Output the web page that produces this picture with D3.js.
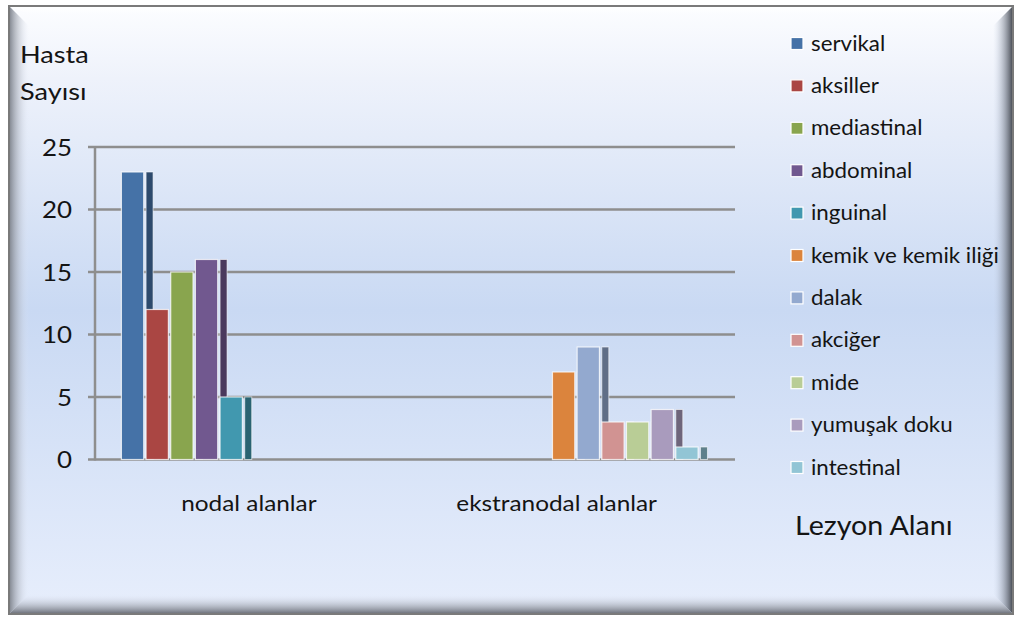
<!DOCTYPE html>
<html>
<head>
<meta charset="utf-8">
<script src="https://cdn.jsdelivr.net/npm/d3@7/dist/d3.min.js"></script>
<style>
  html, body { margin: 0; padding: 0; background: #ffffff; }
  svg { display: block; }
  text { font-family: Lato, "Open Sans", sans-serif; fill: #141414; }
</style>
</head>
<body>
<svg id="chart" width="1015" height="617"></svg>
<script>
// Lesion sites (categories) and the series shown in each cluster
const categories = ["nodal alanlar", "ekstranodal alanlar"];
const seriesNames = ["servikal", "aksiller", "mediastinal", "abdominal", "inguinal",
  "kemik ve kemik iliği", "dalak", "akciğer", "mide", "yumuşak doku", "intestinal"];
const nodalValues = [23, 12, 15, 16, 5, null, null, null, null, null, null];
const extranodalValues = [null, null, null, null, null, 7, 9, 3, 3, 4, 1];
const seriesColors = ["#4572A7", "#AA4643", "#89A54E", "#71588F", "#4198AF",
  "#DB843D", "#93A9CF", "#D19392", "#B9CD96", "#A99BBD", "#92C5D5"];
const yTicks = [0, 5, 10, 15, 20, 25];

const valuesByCategory = [nodalValues, extranodalValues];

const svg = d3.select("#chart");
const defs = svg.append("defs");

// text placed at (x, y) and widened horizontally by sx
const place = (x, y, sx) => `translate(${x},${y}) scale(${sx},1)`;

// ---- panel background and bevelled frame ----
const bg = defs.append("linearGradient").attr("id", "bgGrad")
  .attr("x1", 0).attr("y1", 0).attr("x2", 0).attr("y2", 1);
bg.append("stop").attr("offset", "0%").attr("stop-color", "#fcfdff");
bg.append("stop").attr("offset", "12%").attr("stop-color", "#eef2fb");
bg.append("stop").attr("offset", "50%").attr("stop-color", "#c9d9f3");
bg.append("stop").attr("offset", "100%").attr("stop-color", "#e7eefc");

function bevelGrad(id, x1, y1, x2, y2, c0, o0, c1, o1) {
  const g = defs.append("linearGradient").attr("id", id)
    .attr("x1", x1).attr("y1", y1).attr("x2", x2).attr("y2", y2);
  g.append("stop").attr("offset", "0%").attr("stop-color", c0).attr("stop-opacity", o0);
  g.append("stop").attr("offset", "100%").attr("stop-color", c1).attr("stop-opacity", o1);
}
bevelGrad("bevL", 0, 0, 1, 0, "#7d828b", 1, "#e3e9f6", 0);
bevelGrad("bevR", 1, 0, 0, 0, "#3f434b", 1, "#c9d5ea", 0);
bevelGrad("bevB", 0, 1, 0, 0, "#666a73", 1, "#e3e9f6", 0);
bevelGrad("bevT", 0, 0, 0, 1, "#ffffff", 1, "#ffffff", 0);

const fx0 = 9, fy0 = 6, fx1 = 1013, fy1 = 614, bw = 20;
svg.append("rect").attr("x", fx0).attr("y", fy0)
  .attr("width", fx1 - fx0).attr("height", fy1 - fy0)
  .attr("fill", "url(#bgGrad)");

const poly = pts => pts.map(p => p.join(",")).join(" ");
svg.append("polygon").attr("points", poly([[fx0, fy0], [fx1, fy0], [fx1 - bw, fy0 + 8], [fx0 + bw, fy0 + 8]]))
  .attr("fill", "url(#bevT)");
svg.append("polygon").attr("points", poly([[fx0, fy0], [fx0 + bw, fy0 + bw], [fx0 + bw, fy1 - bw], [fx0, fy1]]))
  .attr("fill", "url(#bevL)");
svg.append("polygon").attr("points", poly([[fx1, fy0], [fx1 - bw, fy0 + bw], [fx1 - bw, fy1 - bw], [fx1, fy1]]))
  .attr("fill", "url(#bevR)");
svg.append("polygon").attr("points", poly([[fx0, fy1], [fx0 + bw, fy1 - bw], [fx1 - bw, fy1 - bw], [fx1, fy1]]))
  .attr("fill", "url(#bevB)");
svg.append("rect").attr("x", fx0).attr("y", fy0)
  .attr("width", fx1 - fx0).attr("height", fy1 - fy0)
  .attr("fill", "none").attr("stroke", "#7a7a7a").attr("stroke-width", 2);

// ---- scales ----
const y = d3.scaleLinear().domain([0, 25]).range([459.5, 147]);
const x0 = d3.scaleBand().domain(categories).range([102, 717.5]).padding(0);
const x1 = d3.scaleBand().domain(seriesNames).range([0, x0.bandwidth()])
  .paddingInner(0.096).paddingOuter(0.787);
const sideW = 7;

const axisLeft = 95, gridLeft = 88, gridRight = 735;

// ---- gridlines and axes ----
const gridG = svg.append("g");
gridG.selectAll("line").data(yTicks).join("line")
  .attr("x1", gridLeft).attr("x2", gridRight)
  .attr("y1", d => y(d)).attr("y2", d => y(d))
  .attr("stroke", "#8e8e8e").attr("stroke-width", 2.5);
gridG.append("line")
  .attr("x1", axisLeft).attr("x2", axisLeft)
  .attr("y1", y(25) - 1).attr("y2", y(0) + 1)
  .attr("stroke", "#8e8e8e").attr("stroke-width", 2.5);

svg.append("g").selectAll("text").data(yTicks).join("text")
  .attr("transform", d => place(72, y(d), 1.08))
  .attr("dy", "0.36em")
  .attr("text-anchor", "end")
  .style("font-size", "24px")
  .text(d => d);

// ---- bars: front face plus darker side strip, drawn in series order ----
const barsG = svg.append("g");
categories.forEach((cat, ci) => {
  const vals = valuesByCategory[ci];
  seriesNames.forEach((s, si) => {
    const v = vals[si];
    if (v == null) return;
    const left = x0(cat) + x1(s);
    const col = seriesColors[si];
    barsG.append("rect")
      .attr("x", left).attr("y", y(v))
      .attr("width", x1.bandwidth()).attr("height", y(0) - y(v))
      .attr("fill", col)
      .attr("stroke", "#ffffff").attr("stroke-opacity", 0.75).attr("stroke-width", 1.2);
    barsG.append("rect")
      .attr("x", left + x1.step()).attr("y", y(v))
      .attr("width", sideW).attr("height", y(0) - y(v))
      .attr("fill", d3.color(col).darker(1.2))
      .attr("stroke", "#ffffff").attr("stroke-opacity", 0.6).attr("stroke-width", 1);
  });
});

// ---- category labels ----
svg.append("g").selectAll("text").data(categories).join("text")
  .attr("transform", d => place(x0(d) + x0.bandwidth() / 2 - 7, 511, 1.16))
  .attr("text-anchor", "middle")
  .style("font-size", "21px")
  .text(d => d);

// ---- axis titles ----
svg.append("text").attr("transform", place(20, 63, 1.18))
  .style("font-size", "23px").text("Hasta");
svg.append("text").attr("transform", place(20, 100, 1.18))
  .style("font-size", "23px").text("Sayısı");

svg.append("text").attr("transform", place(795, 535, 1.04))
  .style("font-size", "27.5px").text("Lezyon Alanı");

// ---- legend ----
const legend = svg.append("g");
const legItems = legend.selectAll("g").data(seriesNames).join("g")
  .attr("transform", (d, i) => `translate(791, ${43.5 + i * 42.4})`);
legItems.append("rect")
  .attr("x", 0).attr("y", -6).attr("width", 12).attr("height", 12)
  .attr("fill", (d, i) => seriesColors[i])
  .attr("stroke", "#ffffff").attr("stroke-width", 1.2);
legItems.append("text")
  .attr("transform", place(20, 0, 1.09))
  .attr("dy", "0.35em")
  .style("font-size", "20.5px")
  .text(d => d);
</script>
</body>
</html>
